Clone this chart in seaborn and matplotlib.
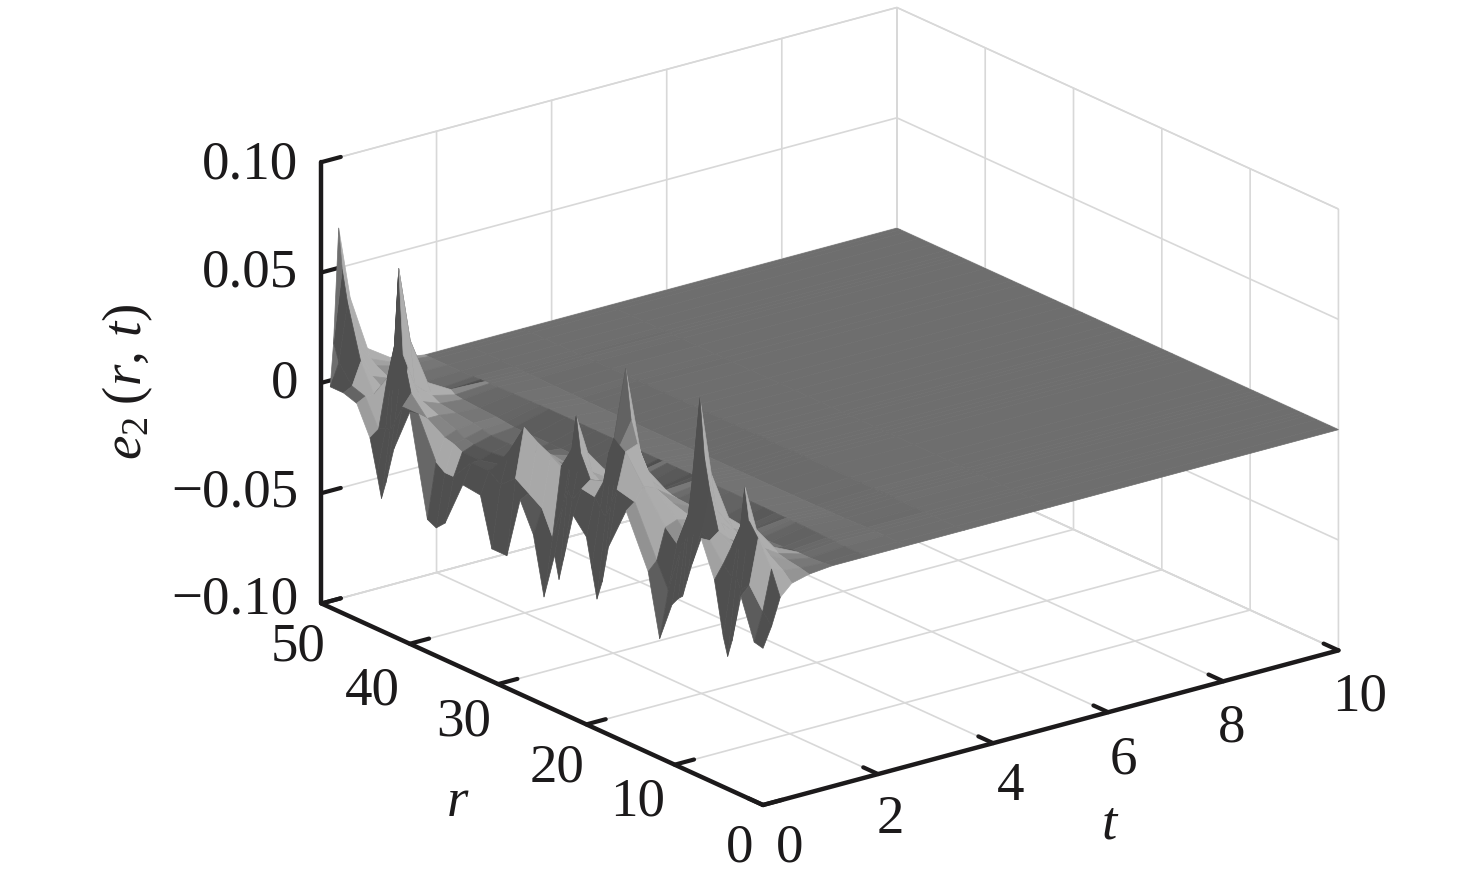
import numpy as np
import matplotlib
matplotlib.use("Agg")
import matplotlib.pyplot as plt
import seaborn as sns
from mpl_toolkits.mplot3d import proj3d

# ---- data -----------------------------------------------------------------
nan = float("nan")
r_values = [0, 1, 2.5, 3.5, 4, 4.5, 5.5, 7, 8, 8.6, 9.1, 9.6, 10.3, 11.7, 13, 15.5, 17.5, 18.2, 18.8, 19.4,
            20, 21.5, 22.6, 23.1, 23.6, 24.8, 26, 27.5, 29, 30.7, 32, 34, 36, 37, 38, 40, 41.8, 42.7, 43.2,
            43.7, 44.5, 46, 47.5, 49, 49.6, 50]
t_values = [0, 0.15, 0.3, 0.5, 0.8, 1.2, 1.8, 2.5, 3.5, 5, 10]
# e2 in units of 0.001; one row per t value, one column per r value
e_t000 = [-29,-28,-10,-32,-40,-32,-8,8,-5,-14,-22,-24,-28,-46,-18,5,-15,-32,-41,-28,-15,-8,-30,-40,-30,-51,-25,-12,-40,-40,-18,-17,-38,-42,-40,5,-15,-32,-40,-30,-15,-2,0,0,nan,nan]
e_t015 = [-20,-15,-6,-10,-5,-6,-2,6,8,14,25,8,-4,-25,-14,8,10,2,-5,-2,2,3,-4,0,-8,-25,-14,-10,-6,-12,-8,-8,-18,-18,-15,3,3,-6,-10,-10,-12,0,2,10,18,nan]
e_t030 = [-8,3,14,20,35,16,5,9,26,40,66,34,12,-5,0,14,26,28,30,22,8,6,16,32,16,6,9,12,16,2,-6,-8,-8,-6,-5,0,8,24,62,26,10,0,12,36,50,68]
e_t050 = [-3,1,5,7,14,6,2,4,10,15,30,13,4,-3,2,12,28,38,60,30,10,3,6,14,6,3,3,3,5,0,-5,-6,-6,-5,-3,0,3,9,28,10,4,0,4,14,20,35]
e_t080 = [-1,0,1,2,4,2,0,0,2,4,8,3,0,-2,0,3,6,9,14,7,2,0,1,4,1,-1,-1,-1,0,-2,-4,-4,-4,-3,-2,-1,0,2,7,2,0,0,1,4,6,10]
e_t120 = [0,-0.5,-1,-1,-1,-1,-1.5,-2,-2,-1.5,-1,-1.5,-2,-3,-3,-2,-1.5,-1,0,-1,-2,-3,-3,-2,-3,-3,-3,-3,-3,-3,-3,-3,-3,-2.5,-2,-1.5,-1,-0.5,1,-0.5,-1,-0.5,0,1,1.5,3]
e_t180 = [0,0,0,.3,.3,.3,.5,.7,.8,.8,.8,.8,.9,1,1,1,1,1,1,1,1,1,1,1,1,1,1,1,1,1,1,1,1,.9,.8,.7,.5,.4,.4,.3,.2,0,0,0,0,0]
e_t250 = [0,0,0,0,0,0,-.2,-.4,-.5,-.5,-.5,-.5,-.6,-.7,-.7,-.8,-.8,-.8,-.8,-.8,-.8,-.8,-.8,-.8,-.8,-.8,-.8,-.8,-.8,-.8,-.8,-.8,-.8,-.7,-.6,-.5,-.4,-.3,-.3,-.2,-.1,0,0,0,0,0]
e_t350 = [0,0,0,0,0,0,0,0,.1,.1,.1,.1,.2,.2,.2,.3,.3,.3,.3,.3,.3,.3,.3,.3,.3,.3,.3,.3,.3,.3,.3,.3,.3,.2,.2,.2,.1,.1,.1,0,0,0,0,0,0,0]
e_t500 = [0]*46
e_t1000 = [0]*46
t_ticks = [0, 2, 4, 6, 8, 10]
r_ticks = [0, 10, 20, 30, 40, 50]
z_ticks = [-0.10, -0.05, 0, 0.05, 0.10]
z_tick_labels = ["\u22120.10", "\u22120.05", "0", "0.05", "0.10"]

# ---- style ----------------------------------------------------------------
sns.set_theme(style="white")
plt.rcParams["font.family"] = ["Liberation Serif", "DejaVu Serif"]
plt.rcParams["mathtext.fontset"] = "custom"
plt.rcParams["mathtext.rm"] = "Liberation Serif"
plt.rcParams["mathtext.it"] = "Liberation Serif:italic"
plt.rcParams["axes.grid"] = True
INK = "#1c1a1b"
GRID = "#d8d8d8"
FS = 39.5

W, H = 1476, 886
fig = plt.figure(figsize=(W / 100, H / 100), dpi=100, facecolor="white")
ax = fig.add_axes([0.0, 0.0, 1.0, 1.0], projection="3d", proj_type="ortho")
ax.patch.set_alpha(0)
ax.view_init(elev=20.5, azim=-127.5)
ax.set_xlim(0, 10, view_margin=0)
ax.set_ylim(0, 50, view_margin=0)
ax.set_zlim(-0.10, 0.10, view_margin=0)

R, T = np.meshgrid(np.array(r_values), np.array(t_values))
Z = np.array([e_t000, e_t015, e_t030, e_t050, e_t080, e_t120, e_t180,
              e_t250, e_t350, e_t500, e_t1000], dtype=float) * 0.001

# per-facet lighting: bright toward small r, dark on faces turned to the viewer's left
PT, PR, PZ = 72.3, 14.56, 2365.0
dzt = ((Z[1:, :-1] - Z[:-1, :-1]) + (Z[1:, 1:] - Z[:-1, 1:])) / 2 * PZ / ((T[1:, :-1] - T[:-1, :-1]) * PT)
dzr = ((Z[:-1, 1:] - Z[:-1, :-1]) + (Z[1:, 1:] - Z[1:, :-1])) / 2 * PZ / ((R[:-1, 1:] - R[:-1, :-1]) * PR)
norm = np.sqrt(dzt**2 + dzr**2 + 1)
L = np.array([0.45, -0.8, 0.4])
dot = (-dzt * L[0] - dzr * L[1] + L[2]) / norm
shade = np.nan_to_num(np.clip(0.43 + 0.6 * (dot - L[2]), 0.31, 0.68), nan=0.43)
# the lit aprons that hang under the ridges in the reference (r from, r to; t 0.15-0.3)
lit_r_bands = [(1, 2.5), (5.5, 7), (13, 17.5), (20, 21.5), (24.8, 29), (36, 40), (44.5, 47.5)]
rmid = (R[:-1, :-1] + R[:-1, 1:]) / 2
tmid = (T[:-1, :-1] + T[1:, :-1]) / 2
for r0, r1 in lit_r_bands:
    shade[(rmid > r0) & (rmid < r1) & (tmid > 0.15) & (tmid < 0.3)] = 0.66
gray = sns.color_palette("gray", as_cmap=True)
surf = ax.plot_surface(T, R, Z, rstride=1, cstride=1, facecolors=gray(shade), shade=False,
                       linewidth=0.5, antialiased=True)
surf.set_clip_on(False)

ax.set_xticks(t_ticks)
ax.set_yticks(r_ticks)
ax.set_zticks(z_ticks)
ax.set_xticklabels([])
ax.set_yticklabels([])
ax.set_zticklabels([])
for axis in (ax.xaxis, ax.yaxis, ax.zaxis):
    axis.set_pane_color((1, 1, 1, 1))
    axis.pane.set_edgecolor(GRID)
    axis.pane.set_linewidth(1.0)
    axis.line.set_color(INK)
    axis.line.set_linewidth(3.2)
    info = axis._axinfo
    info["grid"].update(color=GRID, linewidth=1.2, linestyle="-")
    info["tick"].update(inward_factor=0.0, outward_factor=0.42,
                        linewidth={True: 3.0, False: 1.0}, color=INK)
    axis.set_tick_params(color=INK, width=3.0)

# ---- calibrate box to the reference corners -------------------------------
BOX = (1, 1, 0.6496)

def px(t, r, z):
    X, Y, _ = proj3d.proj_transform(t, r, z, ax.get_proj())
    return ax.transData.transform((X, Y))

fig.canvas.draw()
ax.set_box_aspect(BOX, zoom=1.0)
fig.canvas.draw()
span = px(10, 0, -0.1)[0] - px(0, 50, -0.1)[0]
zoom = (1337 - 320) / span
ax.set_box_aspect(BOX, zoom=zoom)
fig.canvas.draw()
o = px(0, 0, -0.1)
dx, dy = 763 - o[0], (H - 805) - o[1]
ax.set_position([dx / W, dy / H, 1.0, 1.0])
fig.canvas.draw()

# ---- tick labels as real text ---------------------------------------------
def label(s, t, r, z, ox, oy, ha="center"):
    X, Y, _ = proj3d.proj_transform(t, r, z, ax.get_proj())
    ax.annotate(s, xy=(X, Y), xycoords="data", xytext=(ox, -oy), textcoords="offset pixels",
                ha=ha, va="center", fontsize=FS, color=INK, annotation_clip=False)

t_off = [(27, 43), (12, 46), (17, 44), (15, 48), (8, 47), (21, 47)]
r_off = [(-23, 43), (-37, 38), (-29, 44), (-34, 38), (-37, 47), (-23, 44)]
z_off = [-3, 0, 1, 1, 3]
for v, (ox, oy) in zip(t_ticks, t_off):
    label(str(v), v, 0, -0.1, ox, oy)
for v, (ox, oy) in zip(r_ticks, r_off):
    label(str(v), 0, v, -0.1, ox, oy)
for v, s, oy in zip(z_ticks, z_tick_labels, z_off):
    label(s, 0, 50, v, -23, oy, ha="right")

fig.text(128 / W, 1 - 382 / H, r"$e_2\;(r,\,t)$", rotation=90, ha="center", va="center",
         fontsize=FS, color=INK)
fig.text(458 / W, 1 - 803 / H, r"$r$", ha="center", va="center", fontsize=FS, color=INK)
fig.text(1110 / W, 1 - 825 / H, r"$t$", ha="center", va="center", fontsize=FS, color=INK)

fig.savefig("out.png", dpi=100, facecolor="white")
